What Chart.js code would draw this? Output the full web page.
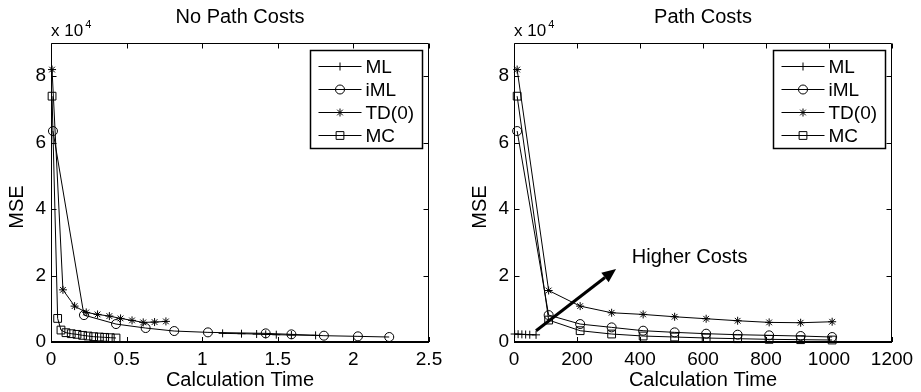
<!DOCTYPE html>
<html>
<head>
<meta charset="utf-8">
<script src="https://cdn.jsdelivr.net/npm/chart.js@4.4.1/dist/chart.umd.min.js"></script>
<style>
  html, body { margin: 0; padding: 0; background: #fff; }
  body { width: 921px; height: 392px; position: relative; overflow: hidden; }
  .panel { position: absolute; top: 0; height: 392px; }
  #left { left: 0; width: 460px; }
  #right { left: 463px; width: 458px; }
</style>
</head>
<body>
<div class="panel" id="left"><canvas id="chartLeft"></canvas></div>
<div class="panel" id="right"><canvas id="chartRight"></canvas></div>
<script>
// values (MSE in raw units, axis shows x 10^4)
const seriesNames = ['ML', 'iML', 'TD(0)', 'MC'];

const mseTicks = [0, 20000, 40000, 60000, 80000];
const noCostTimeTicks = [0, 0.5, 1, 1.5, 2, 2.5];
const costTimeTicks = [0, 200, 400, 600, 800, 1000, 1200];

// left panel: no path costs
const noCostMlTime = [1.135, 1.26, 1.36, 1.42, 1.49, 1.59, 1.75];
const noCostMlMse = [2600, 2500, 2400, 2300, 2200, 2100, 2000];
const noCostImlTime = [0.013, 0.218, 0.43, 0.626, 0.815, 1.038, 1.42, 1.59, 1.805, 2.03, 2.237];
const noCostImlMse = [63500, 8100, 5400, 4200, 3300, 2900, 2600, 2300, 1900, 1700, 1500];
const noCostTdTime = [0.007, 0.079, 0.156, 0.233, 0.308, 0.386, 0.46, 0.536, 0.61, 0.685, 0.76];
const noCostTdMse = [82000, 15700, 10800, 8900, 8300, 7800, 7100, 6500, 5900, 6000, 6200];
const noCostMcTime = [0.007, 0.044, 0.066, 0.099, 0.134, 0.172, 0.209, 0.245, 0.282, 0.32, 0.355, 0.392, 0.43];
const noCostMcMse = [74000, 7100, 3600, 2800, 2500, 2300, 2000, 1800, 1600, 1500, 1400, 1300, 1200];

// right panel: path costs
const costMlTime = [2, 13, 25, 37, 50, 70];
const costMlMse = [2400, 2350, 2300, 2250, 2200, 2150];
const costTime = [10, 110, 210, 310, 410, 510, 610, 710, 810, 910, 1010];
const costImlMse = [63500, 8100, 5400, 4400, 3400, 2900, 2500, 2200, 2000, 1800, 1500];
const costTdMse = [82000, 15500, 10800, 8800, 8300, 7600, 7000, 6400, 5900, 5800, 6100];
const costMcMse = [74000, 6600, 3400, 2400, 1800, 1500, 1200, 1000, 800, 700, 600];

// annotation on the right panel, in data units
const arrowFrom = [70, 3400];
const arrowTo = [324, 22000];
const arrowLabel = 'Higher Costs';
const arrowLabelAt = [374, 25400];

const FONT = "'Liberation Sans', Arial, Helvetica, sans-serif";
Chart.defaults.color = '#000';
Chart.defaults.font.family = FONT;

const markers = {
    'ML': { style: 'cross', r: 4 },
    'iML': { style: 'circle', r: 4.5 },
    'TD(0)': { style: 'star', r: 4 },
    'MC': { style: 'rect', r: 5.5 },
};

const toPoints = (xs, ys) => xs.map((x, i) => ({ x, y: ys[i] }));

const makeDataset = (name, xs, ys) => ({
    label: name,
    data: toPoints(xs, ys),
    borderColor: '#000',
    borderWidth: 1,
    pointStyle: markers[name].style,
    pointRadius: markers[name].r,
    pointBorderColor: '#000',
    pointBackgroundColor: 'rgba(0,0,0,0)',
    pointBorderWidth: 1,
    tension: 0,
    clip: false,
});

const drawMarker = (ctx, style, x, y, r) => {
    ctx.beginPath();
    if (style === 'circle') {
        ctx.arc(x, y, r, 0, Math.PI * 2);
    } else if (style === 'rect') {
        const s = r * Math.SQRT1_2;
        ctx.rect(x - s, y - s, 2 * s, 2 * s);
    } else {
        ctx.moveTo(x - r, y); ctx.lineTo(x + r, y);
        ctx.moveTo(x, y - r); ctx.lineTo(x, y + r);
        if (style === 'star') {
            const d = r * Math.SQRT1_2;
            ctx.moveTo(x - d, y - d); ctx.lineTo(x + d, y + d);
            ctx.moveTo(x - d, y + d); ctx.lineTo(x + d, y - d);
        }
    }
    ctx.stroke();
};

// box, inward ticks, exponent, y label and legend (MATLAB look)
const framePlugin = {
    id: 'matlabFrame',
    afterDatasetsDraw(chart) {
        const { ctx, chartArea: a, scales } = chart;
        ctx.save();
        ctx.strokeStyle = '#000';
        ctx.lineWidth = 1;
        const L = Math.round(a.left) + 0.5;
        const R = Math.round(a.right) - 0.5;
        const T = Math.round(a.top) + 0.5;
        const B = Math.round(a.bottom);
        ctx.beginPath();
        ctx.moveTo(L, B); ctx.lineTo(L, T); ctx.lineTo(R, T); ctx.lineTo(R, B);
        ctx.stroke();
        ctx.lineWidth = 2;
        ctx.beginPath();
        ctx.moveTo(L - 0.5, B); ctx.lineTo(R + 0.5, B);
        ctx.stroke();

        ctx.lineWidth = 1;
        ctx.beginPath();
        scales.x.ticks.forEach((t) => {
            const px = Math.round(scales.x.getPixelForValue(t.value)) + 0.5;
            ctx.moveTo(px, B); ctx.lineTo(px, B - 5);
            ctx.moveTo(px, T); ctx.lineTo(px, T + 5);
        });
        scales.y.ticks.forEach((t) => {
            const py = Math.round(scales.y.getPixelForValue(t.value)) + 0.5;
            ctx.moveTo(L, py); ctx.lineTo(L + 5, py);
            ctx.moveTo(R, py); ctx.lineTo(R - 5, py);
        });
        ctx.stroke();
        ctx.restore();
    },
    afterDraw(chart, args, opts) {
        const { ctx, chartArea: a } = chart;
        ctx.save();
        ctx.fillStyle = '#000';
        ctx.strokeStyle = '#000';

        // x 10^4
        ctx.textAlign = 'left';
        ctx.textBaseline = 'alphabetic';
        ctx.font = `17px ${FONT}`;
        ctx.fillText('x 10', a.left, 36);
        const w = ctx.measureText('x 10').width;
        ctx.font = `11px ${FONT}`;
        ctx.fillText('4', a.left + w + 2, 28);

        // y axis label
        ctx.save();
        ctx.translate(17, 207);
        ctx.rotate(-Math.PI / 2);
        ctx.font = `20px ${FONT}`;
        ctx.textAlign = 'center';
        ctx.textBaseline = 'middle';
        ctx.fillText('MSE', 0, 0);
        ctx.restore();

        // legend
        const bw = 112, bh = 98;
        const bx = Math.round(a.right - 7 - bw) + 0.5;
        const by = Math.round(a.top + 7) + 0.5;
        ctx.fillStyle = '#fff';
        ctx.fillRect(bx, by, bw, bh);
        ctx.lineWidth = 1.5;
        ctx.strokeRect(bx, by, bw, bh);
        ctx.lineWidth = 1;
        ctx.fillStyle = '#000';
        ctx.font = `19px ${FONT}`;
        ctx.textBaseline = 'middle';
        ctx.textAlign = 'left';
        chart.data.datasets.forEach((ds, i) => {
            const y = Math.round(by + 15 + i * 23) + 0.5;
            ctx.beginPath();
            ctx.moveTo(bx + 8, y); ctx.lineTo(bx + 51, y);
            ctx.stroke();
            drawMarker(ctx, markers[ds.label].style, bx + 29.5, y, markers[ds.label].r);
            ctx.fillText(ds.label, bx + 55, y + 1);
        });

        // annotation arrow
        if (opts.arrow) {
            const sx = chart.scales.x, sy = chart.scales.y;
            const x1 = sx.getPixelForValue(opts.arrow.from[0]);
            const y1 = sy.getPixelForValue(opts.arrow.from[1]);
            const x2 = sx.getPixelForValue(opts.arrow.to[0]);
            const y2 = sy.getPixelForValue(opts.arrow.to[1]);
            const ang = Math.atan2(y2 - y1, x2 - x1);
            const head = 14, half = 6;
            const hx = x2 - head * Math.cos(ang), hy = y2 - head * Math.sin(ang);
            ctx.lineWidth = 3;
            ctx.lineCap = 'butt';
            ctx.beginPath();
            ctx.moveTo(x1, y1); ctx.lineTo(hx, hy);
            ctx.stroke();
            ctx.beginPath();
            ctx.moveTo(x2, y2);
            ctx.lineTo(hx + half * Math.sin(ang), hy - half * Math.cos(ang));
            ctx.lineTo(hx - half * Math.sin(ang), hy + half * Math.cos(ang));
            ctx.closePath();
            ctx.fill();

            ctx.font = `20px ${FONT}`;
            ctx.textBaseline = 'middle';
            ctx.fillText(opts.arrow.label,
                sx.getPixelForValue(opts.arrow.labelAt[0]),
                sy.getPixelForValue(opts.arrow.labelAt[1]));
        }
        ctx.restore();
    },
};

const buildChart = (canvasId, title, timeMax, timeTicks, datasets, rightPad, arrow) => new Chart(document.getElementById(canvasId), {
    type: 'line',
    data: { datasets },
    plugins: [framePlugin],
    options: {
        responsive: true,
        maintainAspectRatio: false,
        animation: false,
        layout: { padding: { left: 0, right: rightPad, top: 0, bottom: 0 } },
        plugins: {
            legend: { display: false },
            tooltip: { enabled: false },
            title: {
                display: true,
                text: title,
                fullSize: false,
                color: '#000',
                font: { size: 20, weight: 'normal' },
                padding: { top: 5, bottom: 14 },
            },
            matlabFrame: { arrow },
        },
        scales: {
            x: {
                type: 'linear',
                min: 0,
                max: timeMax,
                afterBuildTicks: (scale) => { scale.ticks = timeTicks.map((v) => ({ value: v })); },
                afterFit: (scale) => { scale.height = 50; },
                grid: { display: false, drawTicks: false },
                border: { display: false },
                ticks: {
                    padding: 6,
                    maxRotation: 0,
                    font: { size: 19 },
                    callback: (v) => String(v),
                },
                title: {
                    display: true,
                    text: 'Calculation Time',
                    font: { size: 20 },
                    padding: { top: 0, bottom: 0 },
                },
            },
            y: {
                type: 'linear',
                min: 0,
                max: 90000,
                afterBuildTicks: (scale) => { scale.ticks = mseTicks.map((v) => ({ value: v })); },
                afterFit: (scale) => { scale.width = 51; },
                grid: { display: false, drawTicks: false },
                border: { display: false },
                ticks: {
                    padding: 5,
                    font: { size: 19 },
                    callback: (v) => String(v / 10000),
                },
            },
        },
    },
});

buildChart('chartLeft', 'No Path Costs', 2.5, noCostTimeTicks, [
    makeDataset(seriesNames[0], noCostMlTime, noCostMlMse),
    makeDataset(seriesNames[1], noCostImlTime, noCostImlMse),
    makeDataset(seriesNames[2], noCostTdTime, noCostTdMse),
    makeDataset(seriesNames[3], noCostMcTime, noCostMcMse),
], 31, null);

buildChart('chartRight', 'Path Costs', 1200, costTimeTicks, [
    makeDataset(seriesNames[0], costMlTime, costMlMse),
    makeDataset(seriesNames[1], costTime, costImlMse),
    makeDataset(seriesNames[2], costTime, costTdMse),
    makeDataset(seriesNames[3], costTime, costMcMse),
], 29, { from: arrowFrom, to: arrowTo, label: arrowLabel, labelAt: arrowLabelAt });
</script>
</body>
</html>
